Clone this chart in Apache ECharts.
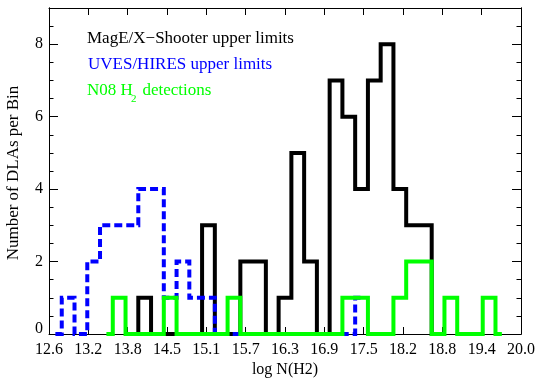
<!DOCTYPE html>
<html><head><meta charset="utf-8">
<script src="https://cdn.jsdelivr.net/npm/echarts@6/dist/echarts.min.js"></script>
<style>html,body{margin:0;padding:0;background:#fff}#c{width:538px;height:381px}</style>
</head><body><div id="c"></div>
<script>
// ---- data (bin centres, 0.2 dex bins; counts per bin) ----
const xTickLabels = ['12.6','13.2','13.8','14.5','15.1','15.7','16.3','16.9','17.5','18.2','18.8','19.4','20.0'];
const yTickLabels = ['0','2','4','6','8'];

const mageCenters = [13.9,14.1,14.3,14.5,14.7,14.9,15.1,15.3,15.5,15.7,15.9,16.1,16.3,16.5,16.7,16.9,17.1,17.3,17.5,17.7,17.9,18.1,18.3,18.5,18.7];
const mageCounts  = [0,   1,   0,   0,   0,   0,   3,   0,   0,   2,   2,   0,   1,   5,   2,   0,   7,   6,   4,   7,   8,   4,   3,   3,   0];

const uvesCenters = [12.7,12.9,13.1,13.3,13.5,13.7,13.9,14.1,14.3,14.5,14.7,14.9,15.1,15.3,15.5,15.7,15.9,16.1,16.3,16.5,16.7,16.9,17.1,17.3,17.5];
const uvesCounts  = [0,   1,   0,   2,   3,   3,   3,   4,   4,   1,   2,   1,   1,   0,   0,   0,   0,   0,   0,   0,   0,   0,   0,   0,   1];

const n08Centers = [13.5,13.7,13.9,14.1,14.3,14.5,14.7,14.9,15.1,15.3,15.5,15.7,15.9,16.1,16.3,16.5,16.7,16.9,17.1,17.3,17.5,17.7,17.9,18.1,18.3,18.5,18.7,18.9,19.1,19.3,19.5,19.7];
const n08Counts  = [0,   1,   0,   0,   0,   1,   0,   0,   0,   0,   1,   0,   0,   0,   0,   0,   0,   0,   0,   1,   1,   0,   0,   1,   2,   2,   0,   1,   0,   0,   1,   0];

const xMin = 12.6, xMax = 20.0, xInterval = (xMax - xMin) / 12;
const yMin = 0, yMax = 9;

const FONT = '"Liberation Serif", "Times New Roman", serif';
const pairs = (c, v) => c.map((x, i) => [x, v[i]]);

function xFmt(v) {
  const i = Math.round((v - xMin) / xInterval);
  return (Math.abs(v - (xMin + i * xInterval)) < 1e-6 && xTickLabels[i]) ? xTickLabels[i] : '';
}
function yFmt(v) {
  const s = String(v);
  if (yTickLabels.indexOf(s) < 0) return '';
  return s === '0' ? '{z|0}' : s;
}

const axLine = {show: true, onZero: false, lineStyle: {color: '#000', width: 1}};
function xAx(pos, showLabel) {
  return {type: 'value', position: pos, min: xMin, max: xMax, interval: xInterval,
    axisLine: axLine,
    axisTick: {show: true, inside: true, length: 7, lineStyle: {color: '#000', width: 1}},
    axisLabel: {show: showLabel, formatter: xFmt, fontFamily: FONT, fontSize: 16, color: '#000', margin: 8},
    splitLine: {show: false}};
}
function yAx(pos, interval, len, showLabel) {
  return {type: 'value', position: pos, min: yMin, max: yMax, interval: interval,
    axisLine: axLine,
    axisTick: {show: true, inside: true, length: len, lineStyle: {color: '#000', width: 1}},
    axisLabel: {show: showLabel, formatter: yFmt, fontFamily: FONT, fontSize: 16, color: '#000', margin: 6,
      rich: {z: {fontFamily: FONT, fontSize: 16, color: '#000', padding: [0, 0, 10, 0]}}},
    splitLine: {show: false}};
}
function histSeries(c, v, color, type) {
  return {type: 'line', step: 'middle', xAxisIndex: 0, yAxisIndex: 0, data: pairs(c, v),
    showSymbol: false, symbol: 'none', clip: false, silent: true,
    lineStyle: {color: color, width: 4, type: type, join: 'miter', cap: 'butt'}};
}

const chart = echarts.init(document.getElementById('c'), null, {renderer: 'canvas'});
chart.setOption({
  animation: false,
  backgroundColor: '#fff',
  grid: {left: 49, top: 8, width: 472, height: 326, containLabel: false},
  xAxis: [xAx('bottom', true), xAx('top', false)],
  yAxis: [yAx('left', 2, 9, true), yAx('left', 0.5, 4.5, false), yAx('right', 2, 9, false), yAx('right', 0.5, 4.5, false)],
  series: [
    histSeries(mageCenters, mageCounts, '#000000', 'solid'),
    histSeries(uvesCenters, uvesCounts, '#0000ff', [8, 4]),
    histSeries(n08Centers, n08Counts, '#00ff00', 'solid')
  ],
  graphic: [
    {type: 'text', x: 87, y: 38.6, style: {text: 'MagE/X\u2212Shooter upper limits', fill: '#000', font: '17px ' + FONT, textAlign: 'left', textVerticalAlign: 'middle'}},
    {type: 'text', x: 88, y: 64.3, style: {text: 'UVES/HIRES upper limits', fill: '#0000ff', font: '17px ' + FONT, textAlign: 'left', textVerticalAlign: 'middle'}},
    {type: 'text', x: 87, y: 90.3, style: {text: 'N08 H', fill: '#00ff00', font: '17px ' + FONT, textAlign: 'left', textVerticalAlign: 'middle'}},
    {type: 'text', x: 131, y: 99, style: {text: '2', fill: '#00ff00', font: '11px ' + FONT, textAlign: 'left', textVerticalAlign: 'middle'}},
    {type: 'text', x: 142.5, y: 90.3, style: {text: 'detections', fill: '#00ff00', font: '17px ' + FONT, textAlign: 'left', textVerticalAlign: 'middle'}},
    {type: 'text', x: 14, y: 173, rotation: Math.PI / 2, style: {text: 'Number of DLAs per Bin', fill: '#000', font: '17px ' + FONT, textAlign: 'center', textVerticalAlign: 'middle'}},
    {type: 'text', x: 285, y: 370, style: {text: 'log N(H2)', fill: '#000', font: '16px ' + FONT, textAlign: 'center', textVerticalAlign: 'middle'}}
  ]
});
</script></body></html>
